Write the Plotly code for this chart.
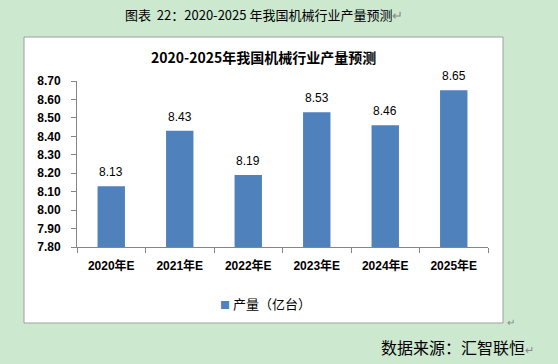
import plotly.graph_objects as go

categories = ["2020年E", "2021年E", "2022年E", "2023年E", "2024年E", "2025年E"]
values = [8.13, 8.43, 8.19, 8.53, 8.46, 8.65]
value_labels = ["8.13", "8.43", "8.19", "8.53", "8.46", "8.65"]
tick_vals = [7.8, 7.9, 8.0, 8.1, 8.2, 8.3, 8.4, 8.5, 8.6, 8.7]
series_name = "产量（亿台）"
fig_caption = "图表  22：2020-2025 年我国机械行业产量预测"
chart_title = "2020-2025年我国机械行业产量预测"
source_text = "数据来源：汇智联恒"

W, H = 558, 364
L, R, T, B = 77, 488, 81, 247  # plot area pixel bounds
BAR_COLOR = "#4F81BD"


def px(x):
    return (x - L) / (R - L)


def py(y):
    return (B - y) / (B - T)


CJK = "Noto Sans CJK SC"
SANS = "Liberation Sans, Arial, " + CJK

fig = go.Figure()
fig.add_trace(go.Bar(
    x=categories, y=values, name=series_name,
    marker=dict(color=BAR_COLOR, line=dict(width=0)),
    showlegend=False,
))

label_annotations = [
    dict(x=c, y=v, xref="x", yref="y", text=t, showarrow=False,
         xanchor="center", yanchor="middle", yshift=14,
         font=dict(family=SANS, size=12, color="#000000"))
    for c, v, t in zip(categories, values, value_labels)
]

fig.update_layout(
    width=W, height=H,
    margin=dict(l=L, r=W - R, t=T, b=H - B, pad=0, autoexpand=False),
    paper_bgcolor="#CCE8CF",
    plot_bgcolor="#FFFFFF",
    bargap=0.6,
    xaxis=dict(
        type="category", showline=True, linecolor="#868686", linewidth=1,
        ticks="outside", tickson="boundaries", ticklen=5, tickcolor="#868686",
        ticklabelstandoff=8,
        tickfont=dict(family="Liberation Sans, Arial, " + CJK, size=12, color="#000000", weight="bold"),
        showgrid=False, fixedrange=True,
    ),
    yaxis=dict(
        range=[7.8, 8.7], tickvals=tick_vals, tickformat=".2f",
        showline=True, linecolor="#868686", linewidth=1,
        ticks="outside", ticklen=5, tickcolor="#868686",
        ticklabelstandoff=8,
        tickfont=dict(family=SANS, size=12, color="#000000", weight="bold"),
        showgrid=False, zeroline=False, fixedrange=True,
    ),
    shapes=[
        dict(type="rect", xref="paper", yref="paper",
             x0=px(24), x1=px(503), y0=py(323), y1=py(37),
             fillcolor="#FFFFFF", line=dict(color="#A0A0A0", width=1), layer="below"),
    ],
    annotations=label_annotations + [
        dict(text="<span style='color:" + BAR_COLOR + ";font-size:10px'>■</span> " + series_name,
             xref="paper", yref="paper",
             x=px(265), y=py(303), xanchor="center", yanchor="middle", showarrow=False,
             font=dict(family=CJK, size=13, color="#000000")),
        dict(text=fig_caption + "<span style='color:#888888'>↵</span>", xref="paper", yref="paper",
             x=px(264), y=py(15), xanchor="center", yanchor="middle", showarrow=False,
             font=dict(family=CJK, size=13, color="#000000")),
        dict(text="<b>" + chart_title + "</b>", xref="paper", yref="paper",
             x=px(263), y=py(57), xanchor="center", yanchor="middle", showarrow=False,
             font=dict(family=CJK, size=14, color="#000000")),
        dict(text=source_text + "<span style='color:#888888;font-size:11px'>↵</span>", xref="paper", yref="paper",
             x=px(379), y=py(347), xanchor="left", yanchor="middle", showarrow=False,
             font=dict(family=CJK, size=16, color="#000000")),
        dict(text="↵", xref="paper", yref="paper",
             x=px(505), y=py(321), xanchor="left", yanchor="middle", showarrow=False,
             font=dict(family=CJK, size=10, color="#888888")),
    ],
)

fig.write_html("out.html", config={"displayModeBar": False},
               post_script="document.body.style.margin='0';document.body.style.padding='0';")
